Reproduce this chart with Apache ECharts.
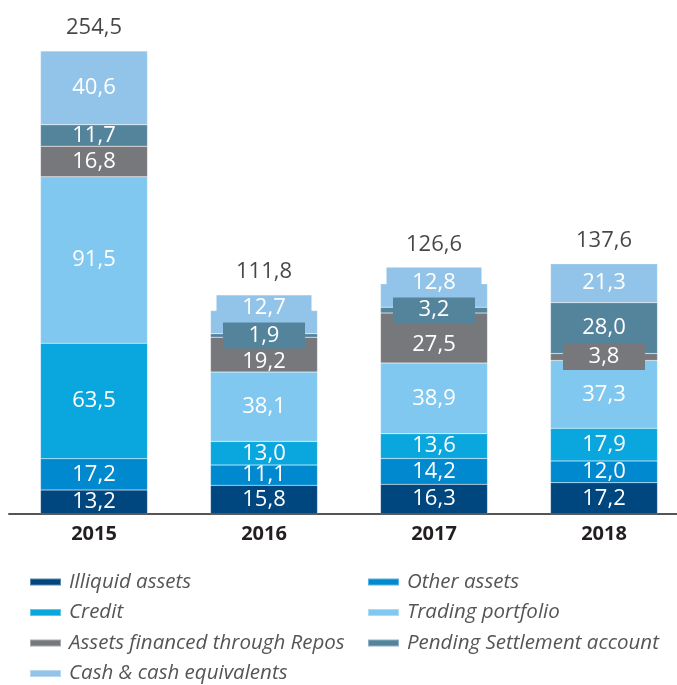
<!DOCTYPE html>
<html>
<head>
<meta charset="utf-8">
<script src="https://cdn.jsdelivr.net/npm/echarts@6/dist/echarts.min.js"></script>
<style>html,body{margin:0;padding:0;background:#fff;}#c{width:677px;height:685px;}</style>
</head>
<body>
<div id="c"></div>
<script>
var years = ['2015', '2016', '2017', '2018'];
var illiquid = [13.2, 15.8, 16.3, 17.2];
var otherAssets = [17.2, 11.1, 14.2, 12.0];
var credit = [63.5, 13.0, 13.6, 17.9];
var trading = [91.5, 38.1, 38.9, 37.3];
var repos = [16.8, 19.2, 27.5, 3.8];
var pending = [11.7, 1.9, 3.2, 28.0];
var cash = [40.6, 12.7, 12.8, 21.3];
var totals = [254.5, 111.8, 126.6, 137.6];
var seriesNames = ['Illiquid assets', 'Other assets', 'Credit', 'Trading portfolio',
  'Assets financed through Repos', 'Pending Settlement account', 'Cash & cash equivalents'];

var FONT = 'Open Sans';
var colors = ['#00467f', '#0089cf', '#0aa7df', '#80c8ef', '#77787b', '#54849b', '#92c4e9'];
var values = [illiquid, otherAssets, credit, trading, repos, pending, cash];

function fmt(v) { return Number(v).toFixed(1).replace('.', ','); }

// label overrides (series index -> data index -> label options)
var labelOverrides = {
  4: { 1: { offset: [0, 7] }, 2: { offset: [0, 7] },
       3: { width: 82, height: 26, lineHeight: 26, backgroundColor: colors[4] } },
  5: { 1: { width: 82, height: 26, lineHeight: 26, backgroundColor: colors[5] },
       2: { width: 82, height: 26, lineHeight: 26, backgroundColor: colors[5] } },
  6: { 1: { width: 95, height: 26, lineHeight: 26, backgroundColor: colors[6], offset: [0, -14] },
       2: { width: 95, height: 30, lineHeight: 30, backgroundColor: colors[6], offset: [0, -13] } }
};
var totalOffsets = { 1: [0, -16], 2: [0, -16] };

var series = values.map(function (arr, si) {
  return {
    name: seriesNames[si],
    type: 'bar',
    stack: 'total',
    barWidth: 107,
    itemStyle: { color: colors[si], borderColor: 'rgba(255,255,255,0.35)', borderWidth: 0.5 },
    label: {
      show: true, position: 'inside', color: '#fff', fontFamily: FONT, fontSize: 22,
      formatter: function (p) { return fmt(p.value); }
    },
    data: arr.map(function (v, i) {
      var d = { value: v };
      if (labelOverrides[si] && labelOverrides[si][i]) {
        d.label = labelOverrides[si][i];
      }
      return d;
    })
  };
});

series.push({
  name: 'Total',
  type: 'scatter',
  symbolSize: 0,
  z: 10,
  label: {
    show: true, position: 'top', distance: 12, color: '#1a1718', fontFamily: FONT, fontSize: 22,
    formatter: function (p) { return fmt(p.value); }
  },
  data: totals.map(function (v, i) {
    var d = { value: v };
    if (totalOffsets[i]) d.label = { offset: totalOffsets[i] };
    return d;
  })
});

var legendText = { fontFamily: FONT, fontStyle: 'italic', fontSize: 20.5, color: '#555', lineHeight: 22, padding: [0, 0, 0, 3] };

var chart = echarts.init(document.getElementById('c'), null, { renderer: 'canvas' });
chart.setOption({
  animation: false,
  grid: { left: 9, width: 680, top: 41, bottom: 171, containLabel: false, outerBoundsMode: 'none' },
  xAxis: {
    type: 'category', data: years,
    axisLine: { lineStyle: { color: '#555', width: 2 } },
    axisTick: { show: false },
    axisLabel: { fontFamily: FONT, fontWeight: 'bold', fontSize: 20, color: '#231f20', margin: 10 }
  },
  yAxis: { type: 'value', min: 0, max: 260, show: false, splitLine: { show: false } },
  legend: [
    { data: [seriesNames[0], seriesNames[2], seriesNames[4], seriesNames[6]],
      orient: 'vertical', left: 29, top: 571, padding: 0, itemWidth: 31, itemHeight: 7, itemGap: 8.5,
      icon: 'rect', textStyle: legendText, selectedMode: false },
    { data: [seriesNames[1], seriesNames[3], seriesNames[5]],
      orient: 'vertical', left: 367, top: 571, padding: 0, itemWidth: 31, itemHeight: 7, itemGap: 8.5,
      icon: 'rect', textStyle: legendText, selectedMode: false }
  ],
  series: series
});
</script>
</body>
</html>
